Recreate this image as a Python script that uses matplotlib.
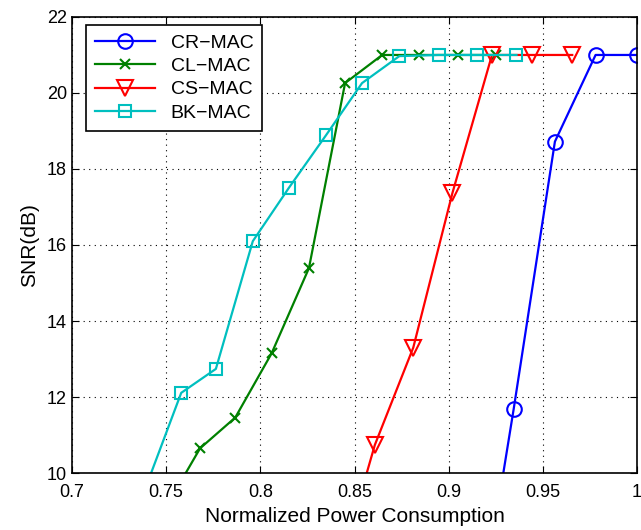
import numpy as np
import matplotlib
matplotlib.use("Agg")
import matplotlib.pyplot as plt

plt.rcParams['font.family'] = ['Liberation Sans', 'DejaVu Sans']

# values (first point of each curve lies below the axis)
cr_x = [0.913, 0.9345, 0.9564, 0.978, 1.0]
cr_y = [5.1, 11.68, 18.72, 21.0, 21.0]

cl_x = [0.748, 0.768, 0.7867, 0.806, 0.8258, 0.845, 0.8647, 0.8844, 0.9049, 0.9253]
cl_y = [8.94, 10.65, 11.46, 13.15, 15.39, 20.26, 21.0, 21.0, 21.0, 21.0]

cs_x = [0.840, 0.8608, 0.8812, 0.902, 0.923, 0.944, 0.9656]
cs_y = [7.16, 10.74, 13.30, 17.37, 21.0, 21.0, 21.0]

bk_x = [0.738, 0.758, 0.7764, 0.796, 0.8151, 0.8349, 0.854, 0.8738, 0.8946, 0.915, 0.936]
bk_y = [9.47, 12.11, 12.74, 16.1, 17.5, 18.89, 20.26, 20.97, 21.0, 21.0, 21.0]

xticks = [0.7, 0.75, 0.8, 0.85, 0.9, 0.95, 1.0]
xtick_labels = ["0.7", "0.75", "0.8", "0.85", "0.9", "0.95", "1"]
yticks = [10, 12, 14, 16, 18, 20, 22]

fig = plt.figure(figsize=(6.41, 5.30), dpi=100)
ax = fig.add_axes([0.1123, 0.1075, 0.8815, 0.8605])

lw = 1.6
ax.plot(cr_x, cr_y, color='b', marker='o', ms=10.5, mfc='none', mew=1.5, lw=lw, label='CR\u2212MAC')
ax.plot(cl_x, cl_y, color='g', marker='x', ms=7, mew=1.5, lw=lw, label='CL\u2212MAC')
ax.plot(cs_x, cs_y, color='r', marker='v', ms=11, mfc='none', mew=1.5, lw=lw, label='CS\u2212MAC')
ax.plot(bk_x, bk_y, color='c', marker='s', ms=8.5, mfc='none', mew=1.5, lw=lw, label='BK\u2212MAC')

ax.set_xlim(0.7, 1.0)
ax.set_ylim(10, 22)
ax.set_xticks(xticks)
ax.set_xticklabels(xtick_labels)
ax.set_yticks(yticks)
ax.tick_params(direction='in', top=True, right=True, labelsize=13, length=5)
ax.tick_params(axis='x', pad=8)
ax.grid(True, color='k', linestyle=(0, (1, 4)), linewidth=0.8)
for s in ax.spines.values():
    s.set_linewidth(1.2)

ax.set_xlabel('Normalized Power Consumption', fontsize=15, labelpad=4)
ax.set_ylabel('SNR(dB)', fontsize=15, labelpad=6)

leg = ax.legend(loc='upper left', bbox_to_anchor=(0.025, 0.982), borderaxespad=0,
                fontsize=14, fancybox=False, framealpha=1, edgecolor='k',
                handlelength=3.1, labelspacing=0.3, borderpad=0.45)
leg.get_frame().set_linewidth(1.2)

fig.savefig('out.png', dpi=100)
